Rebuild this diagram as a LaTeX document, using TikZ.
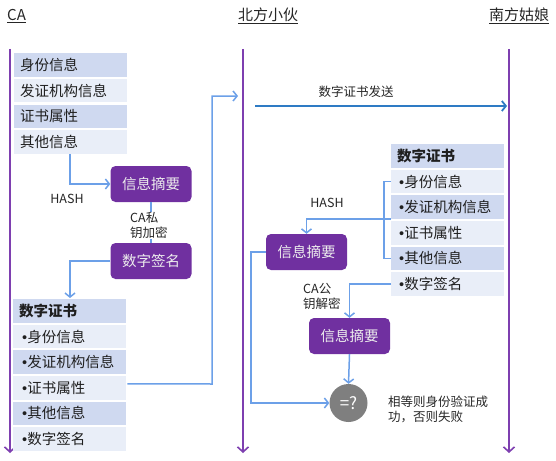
\documentclass[tikz,border=0pt]{standalone}
\usepackage{fontspec}
\setmainfont{Noto Sans CJK SC}
\newfontfamily\bulfont{Liberation Sans}
\newcommand{\myb}{{\bulfont •}}
\usetikzlibrary{arrows.meta,calc}
\definecolor{lifec}{HTML}{7E3FB0}
\definecolor{boxc}{HTML}{7030A0}
\definecolor{rowd}{HTML}{CFD9F0}
\definecolor{rowl}{HTML}{E9EEF8}
\definecolor{connc}{HTML}{6CA0E8}
\definecolor{sendc}{HTML}{2E7BC4}
\definecolor{eqc}{HTML}{7F7F7F}
\begin{document}
\begin{tikzpicture}[x=1pt,y=-1pt,
  life/.style={draw=lifec, line width=1.6pt, -{Straight Barb[length=5pt,width=11pt]}},
  conn/.style={draw=connc, line width=1.5pt, -{Straight Barb[length=4pt,width=10pt]}},
  connplain/.style={draw=connc, line width=1.5pt},
  sendarrow/.style={draw=sendc, line width=1.8pt, -{Straight Barb[length=4pt,width=10pt]}},
  rowbase/.style={anchor=north west, minimum height=23.5pt, text width=101pt, inner xsep=6pt, inner ysep=0pt, align=left, font=\fontsize{14.5}{16}\selectfont, text=black!88},
  rowdark/.style={rowbase, fill=rowd},
  rowlight/.style={rowbase, fill=rowl},
  pbox/.style={fill=boxc, rounded corners=5pt, minimum width=81pt, minimum height=36pt, text=white!93!black, font=\fontsize{14.5}{16}\selectfont, inner sep=0pt},
  lbl/.style={font=\fontsize{12.5}{15}\selectfont, text=black!85, inner sep=0pt},
  head/.style={font=\fontsize{15}{17}\selectfont, text=black!85, inner sep=0pt, anchor=base west},
  eqnode/.style={circle, fill=eqc, minimum size=38pt, inner sep=0pt, text=white, font=\fontsize{17}{19}\selectfont}
]
\useasboundingbox (0,0) rectangle (556,460);

% lifeline headers
\node[head] (hca) at (7,21) {\underline{CA}};
\node[head] (hbf) at (238,21) {\underline{北方小伙}};
\node[head] (hnf) at (489,21) {\underline{南方姑娘}};

% lifelines
\coordinate (caT) at (10,49);  \coordinate (caB) at (10,453);
\coordinate (bfT) at (243,49); \coordinate (bfB) at (243,453);
\coordinate (nfT) at (509,49); \coordinate (nfB) at (509,453);
\draw[life] (caT) -- (caB);
\draw[life] (bfT) -- (bfB);
\draw[life] (nfT) -- (nfB);

% left top table
\node[rowdark]  (l1) at (14,53)    {身份信息};
\node[rowlight] (l2) at (14,78.7)  {发证机构信息};
\node[rowdark]  (l3) at (14,104.3) {证书属性};
\node[rowlight] (l4) at (14,130)   {其他信息};

% left boxes
\node[pbox] (ha) at (151,184) {信息摘要};
\node[pbox] (hb) at (151,261) {数字签名};

% left bottom table
\node[rowdark]  (b0) at (13,299)   {\textbf{数字证书}};
\node[rowlight] (b1) at (13,324.6) {\hspace*{3pt}\myb 身份信息};
\node[rowdark]  (b2) at (13,350.2) {\hspace*{3pt}\myb 发证机构信息};
\node[rowlight] (b3) at (13,375.8) {\hspace*{3pt}\myb 证书属性};
\node[rowdark]  (b4) at (13,401.4) {\hspace*{3pt}\myb 其他信息};
\node[rowlight] (b5) at (13,427)   {\hspace*{3pt}\myb 数字签名};

% left connectors
\draw[conn] ($(l4.south west)+(56,0)$) |- (ha.west);
\node[lbl] (hash1) at (67,199) {HASH};
\draw[connplain] (ha.south) -- (hb.north);
\node[lbl, anchor=north west, align=left, fill=white, inner sep=0.5pt] (capriv) at (129.5,211.5) {CA私\\钥加密};
\draw[conn] (hb.west) -| ($(b0.north west)+(57,-1)$);
\coordinate (up1) at (212,384);
\coordinate (up2) at (212,96);
\draw[conn] ($(b3.east)+(1,-4)$) -- (up1) -- (up2) -- ($(bfT)+(-5,47)$);

% send arrow
\coordinate (sendS) at (255,106);
\coordinate (sendE) at (507,106);
\draw[sendarrow] (sendS) -- (sendE);
\node[lbl] (sendlbl) at (356,92) {数字证书发送};

% right table
\node[rowdark]  (r0) at (391,144)   {\textbf{数字证书}};
\node[rowlight] (r1) at (391,169.6) {\hspace*{2pt}\myb 身份信息};
\node[rowdark]  (r2) at (391,195.2) {\hspace*{2pt}\myb 发证机构信息};
\node[rowlight] (r3) at (391,220.8) {\hspace*{2pt}\myb 证书属性};
\node[rowdark]  (r4) at (391,246.4) {\hspace*{2pt}\myb 其他信息};
\node[rowlight] (r5) at (391,272)   {\hspace*{2pt}\myb 数字签名};

% right boxes
\node[pbox] (rh)  at (306.5,252) {信息摘要};
\node[pbox] (rh2) at (349.5,336) {信息摘要};
\node[eqnode] (eq) at (348.5,403) {=?};

% right connectors
\draw[connplain] (r1.west) -- ++(-7,0) coordinate (brT) -- ($(r4.west)+(-7,0)$) coordinate (brB) -- (r4.west);
\draw[conn] (r2.south west) -| (rh.north);
\node[lbl] (hash2) at (327,203) {HASH};
\draw[conn] (rh.west) -- ++(-15,0) |- (eq.west);
\draw[conn] (r5.west) -| (rh2.north);
\node[lbl, anchor=north west, align=left] (capub) at (303,283.5) {CA公\\钥解密};
\draw[conn] (rh2.south) -- (eq.north);
\node[lbl, anchor=north west, align=left] (res) at (388,395.5) {相等则身份验证成\\功，否则失败};
\end{tikzpicture}
\end{document}
